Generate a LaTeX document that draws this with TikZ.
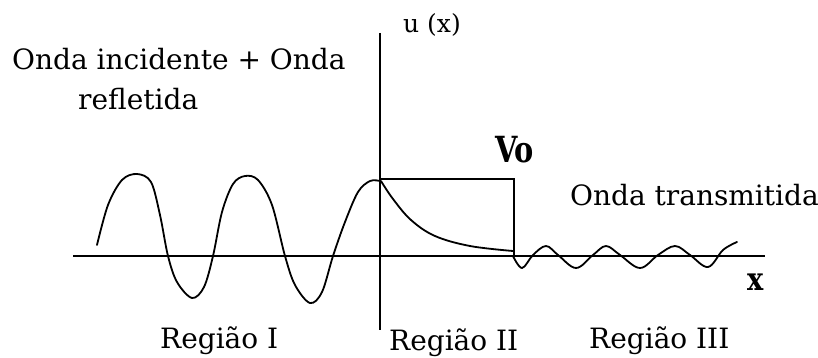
\documentclass[tikz,border=0pt]{standalone}
\usepackage{fontspec}
\setmainfont{DejaVu Serif}
\begin{document}
\begin{tikzpicture}[x=1pt,y=-1pt,
  lbl/.style={inner sep=0pt,anchor=base west,font=\fontsize{28}{30}\selectfont},
  axis/.style={line width=1.9pt},
  wave/.style={line width=1.8pt,line join=round,line cap=round}]
\useasboundingbox (0,0) rectangle (818,358);
% axes
\coordinate (xa) at (73,256);
\coordinate (xb) at (765,256);
\coordinate (ya) at (380,33);
\coordinate (yb) at (380,330);
\draw[axis] (xa) -- (xb);
\draw[axis] (ya) -- (yb);
% barrier
\coordinate (b1) at (380,179);
\coordinate (b2) at (514,179);
\coordinate (b3) at (514,256);
\draw[axis] (b1) -- (b2) -- (b3);
% incident + reflected wave
\draw[wave] plot[smooth,tension=0.55] coordinates {(97,245) (108,205) (122,180) (137,174) (151,182) (160,215) (168,256) (177,282) (192,298) (204,287) (213,256) (222,212) (233,184) (245,176) (258,180) (272,205) (285,256) (295,285) (310,303) (322,292) (333,256) (345,222) (358,192) (370,181) (380,181)};
% decay in barrier
\draw[wave] plot[smooth,tension=0.6] coordinates {(381,181) (393,199) (411,220) (435,236) (470,246) (513,251)};
% transmitted wave
\draw[wave] plot[smooth,tension=0.6] coordinates {(513,256) (522,268) (533,255) (546,246) (558,255) (576,268) (593,255) (606,246) (620,255) (640,268) (658,255) (675,246) (690,255) (708,267) (723,250) (737,242)};
% labels
\node[lbl] (t1) at (12,70) {Onda incidente + Onda};
\node[lbl] (t2) at (78,110) {refletida};
\node[lbl,font=\fontsize{25}{27}\selectfont] (ux) at (403,33) {u (x)};
\node[lbl,font=\bfseries\fontsize{36}{38}\selectfont,xscale=0.8] (vo) at (495,163) {Vo};
\node[lbl] (tr) at (570,205) {Onda transmitida};
\node[lbl,font=\bfseries\fontsize{32}{34}\selectfont,xscale=0.85] (xl) at (747,290) {x};
\node[lbl] (r1) at (160,348) {Região I};
\node[lbl] (r2) at (389,350) {Região II};
\node[lbl] (r3) at (589,348) {Região III};
\end{tikzpicture}
\end{document}
